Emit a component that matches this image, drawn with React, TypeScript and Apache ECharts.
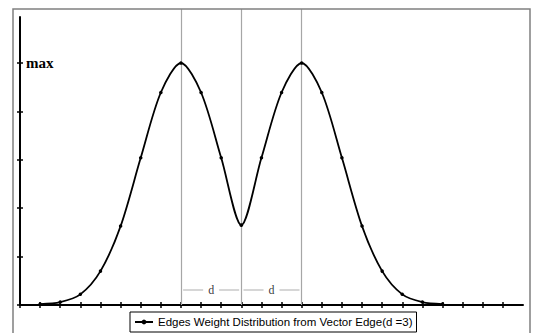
import React, { useEffect, useRef } from "react";
import * as echarts from "echarts";

const positions = [1, 2, 3, 4, 5, 6, 7, 8, 9, 10, 11, 12, 13, 14, 15, 16, 17, 18, 19, 20, 21];
const weights = [0.02, 0.06, 0.22, 0.7, 1.63, 3.04, 4.39, 5, 4.39, 3.04, 1.65, 3.04, 4.39, 5, 4.39, 3.04, 1.63, 0.7, 0.22, 0.06, 0.02];
const xTicks = [0, 1, 2, 3, 4, 5, 6, 7, 8, 9, 10, 11, 12, 13, 14, 15, 16, 17, 18, 19, 20, 21, 22, 23, 24];
const yTicks = [0, 1, 2, 3, 4, 5];
const guideLines = [8, 11, 14];
const dLabels = [
  [9.5, 0.31],
  [12.5, 0.31],
];
const seriesName = "Edges Weight Distribution from Vector Edge(d =3)";

export default function App() {
  const ref = useRef<HTMLDivElement>(null);
  useEffect(() => {
    const chart = echarts.init(ref.current!, null, { renderer: "svg" });
    const axisBase = {
      type: "value" as const,
      splitLine: { show: false },
    };
    chart.setOption({
      animation: false,
      backgroundColor: "#fff",
      grid: [
        { left: 20, right: 12, top: 17, bottom: 28 },
        { left: 20, right: 12, top: 9, bottom: 28 },
      ],
      xAxis: [
        {
          ...axisBase,
          gridIndex: 0,
          min: 0,
          max: 25,
          interval: 1,
          axisLine: { lineStyle: { color: "#000", width: 2 } },
          axisTick: { show: true, inside: false, length: 3, customValues: xTicks, lineStyle: { color: "#000", width: 1.5 } },
          axisLabel: { show: false },
        },
        {
          ...axisBase,
          gridIndex: 0,
          position: "bottom",
          min: 0,
          max: 25,
          interval: 1,
          axisLine: { show: false },
          axisTick: { show: true, inside: true, length: 3, customValues: xTicks, lineStyle: { color: "#000", width: 1.5 } },
          axisLabel: { show: false },
        },
        {
          ...axisBase,
          gridIndex: 1,
          min: 0,
          max: 25,
          show: false,
        },
      ],
      yAxis: [
        {
          ...axisBase,
          gridIndex: 0,
          min: 0,
          max: 5.95,
          interval: 1,
          axisLine: { show: true, lineStyle: { color: "#000", width: 2 } },
          axisTick: { show: true, inside: false, length: 3, customValues: yTicks, lineStyle: { color: "#000", width: 1.5 } },
          axisLabel: {
            show: true,
            inside: true,
            margin: 6,
            customValues: [5],
            formatter: () => "max",
            fontFamily: "Liberation Serif",
            fontWeight: "bold",
            fontSize: 15,
            color: "#000",
          },
        },
        {
          ...axisBase,
          gridIndex: 0,
          position: "left",
          min: 0,
          max: 5.95,
          interval: 1,
          axisLine: { show: false },
          axisTick: { show: true, inside: true, length: 3, customValues: yTicks, lineStyle: { color: "#000", width: 1.5 } },
          axisLabel: { show: false },
        },
        {
          ...axisBase,
          gridIndex: 1,
          min: 0,
          max: 1,
          show: false,
        },
      ],
      legend: {
        data: [seriesName],
        left: 130,
        top: 312,
        orient: "horizontal",
        borderColor: "#000",
        borderWidth: 1,
        padding: [4, 4, 4, 4],
        itemWidth: 18,
        itemHeight: 6,
        itemGap: 4,
        textStyle: { fontFamily: "Liberation Sans", fontSize: 11.5, color: "#000", padding: [0, 0, 0, 0] },
      },
      series: [
        {
          type: "line",
          xAxisIndex: 2,
          yAxisIndex: 2,
          data: [],
          silent: true,
          z: 1,
          markLine: {
            symbol: "none",
            silent: true,
            label: { show: false },
            lineStyle: { color: "#a6a6a6", width: 1.2, type: "solid" },
            data: guideLines.map((v) => ({ xAxis: v })),
          },
        },
        {
          name: seriesName,
          type: "line",
          xAxisIndex: 0,
          yAxisIndex: 0,
          data: positions.map((p, i) => [p, weights[i]]),
          smooth: 0.3,
          symbol: "circle",
          symbolSize: 3.5,
          lineStyle: { color: "#000", width: 1.8 },
          itemStyle: { color: "#000" },
          z: 5,
        },
        {
          type: "scatter",
          xAxisIndex: 0,
          yAxisIndex: 0,
          data: dLabels,
          symbolSize: 0,
          silent: true,
          z: 4,
          itemStyle: { color: "#000" },
          label: {
            show: true,
            position: "inside",
            color: "#000",
            formatter: "{g|}{s|}{d|d}{s|}{g|}",
            rich: {
              g: { width: 20, height: 1, backgroundColor: "#999" },
              s: { width: 5, height: 1 },
              d: { fontFamily: "Liberation Serif", fontSize: 12, color: "#000" },
            },
          },
        },
      ],
      graphic: [
        {
          type: "rect",
          shape: { x: 13, y: 9, width: 517, height: 340 },
          style: { fill: "none", stroke: "#808080", lineWidth: 1.5 },
          z: 100,
          silent: true,
        },
      ],
    });
    return () => chart.dispose();
  }, []);
  return <div ref={ref} style={{ position: "fixed", left: 0, top: 0, width: 535, height: 333 }} />;
}
